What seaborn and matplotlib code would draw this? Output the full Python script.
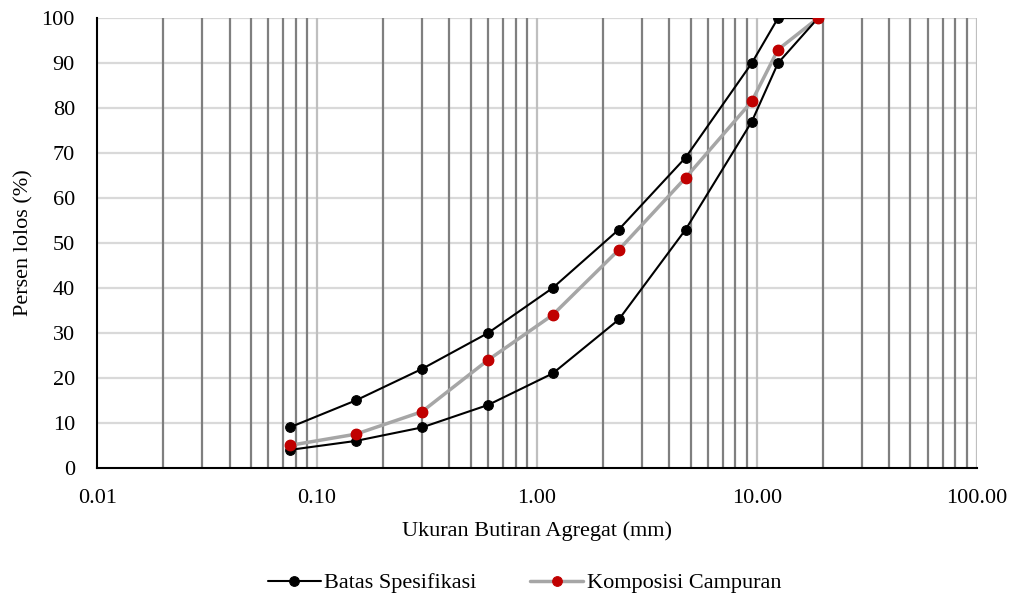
import matplotlib
matplotlib.use("Agg")
import matplotlib.pyplot as plt
import seaborn as sns
import pandas as pd
from matplotlib.ticker import LogLocator, FixedLocator, FixedFormatter, NullFormatter

sieve_mm = [0.075, 0.15, 0.3, 0.6, 1.18, 2.36, 4.75, 9.5, 12.5, 19.0]
upper_limit = [9, 15, 22, 30, 40, 53, 69, 90, 100, 100]
lower_limit = [4, 6, 9, 14, 21, 33, 53, 77, 90, 100]
mix_passing = [5, 7.5, 12.5, 24, 34, 48.5, 64.5, 81.5, 93, 100]

x_ticks = [0.01, 0.1, 1, 10, 100]
x_tick_labels = ["0.01", "0.10", "1.00", "10.00", "100.00"]
y_ticks = list(range(0, 101, 10))

sns.set_theme(style="white")
plt.rcParams["font.family"] = ["Liberation Serif", "DejaVu Serif"]
plt.rcParams["text.color"] = "black"
plt.rcParams["axes.labelcolor"] = "black"

df_up = pd.DataFrame({"x": sieve_mm, "y": upper_limit})
df_lo = pd.DataFrame({"x": sieve_mm, "y": lower_limit})
df_mix = pd.DataFrame({"x": sieve_mm, "y": mix_passing})

fig = plt.figure(figsize=(10.12, 6.03), dpi=100)
ax = fig.add_axes([0.096, 0.224, 0.869, 0.746])

ax.set_xscale("log")
ax.set_xlim(0.01, 100)
ax.set_ylim(0, 100)

# grid lines
ax.xaxis.set_minor_locator(LogLocator(base=10, subs=range(2, 10), numticks=20))
ax.xaxis.set_minor_formatter(NullFormatter())
ax.grid(False)
for xv in [v * 10.0**e for e in range(-2, 2) for v in range(2, 10)]:
    ax.axvline(xv, color="#7f7f7f", lw=1.6, zorder=0.5)
for xv in x_ticks[1:]:
    ax.axvline(xv, color="#bfbfbf", lw=1.6, zorder=0.5)
for yv in y_ticks[1:]:
    ax.axhline(yv, color="#d9d9d9", lw=1.6, zorder=0.4)

sns.lineplot(data=df_mix, x="x", y="y", ax=ax, color="#a6a6a6", lw=2.5,
             marker="o", markersize=7, markerfacecolor="#c00000",
             markeredgecolor="#c00000", label="Komposisi Campuran", zorder=3)
sns.lineplot(data=df_up, x="x", y="y", ax=ax, color="black", lw=1.5,
             marker="o", markersize=7, markeredgecolor="black",
             label="Batas Spesifikasi", zorder=4)
sns.lineplot(data=df_lo, x="x", y="y", ax=ax, color="black", lw=1.5,
             marker="o", markersize=7, markeredgecolor="black",
             label="_nolegend_", zorder=4)
# redraw mix markers on top of black lines
ax.plot(sieve_mm, mix_passing, ls="none", marker="o", markersize=7.5,
        color="#c00000", zorder=5)

ax.xaxis.set_major_locator(FixedLocator(x_ticks))
ax.xaxis.set_major_formatter(FixedFormatter(x_tick_labels))
ax.set_yticks(y_ticks)
ax.tick_params(axis="both", which="both", length=0, labelsize=16,
               colors="black", labelcolor="black")
ax.tick_params(axis="y", pad=16)
ax.tick_params(axis="x", pad=15)

for s in ["top", "right"]:
    ax.spines[s].set_visible(False)
for s in ["left", "bottom"]:
    ax.spines[s].set_color("black")
    ax.spines[s].set_linewidth(1.5)

ax.set_xlabel("Ukuran Butiran Agregat (mm)", fontsize=16, color="black", labelpad=10)
ax.set_ylabel("Persen lolos (%)", fontsize=16, color="black", labelpad=6)

handles, labels = ax.get_legend_handles_labels()
order = [labels.index("Batas Spesifikasi"), labels.index("Komposisi Campuran")]
leg = ax.legend([handles[i] for i in order], [labels[i] for i in order],
                loc="center", bbox_to_anchor=(0.486, -0.256), ncol=2, frameon=False,
                fontsize=16, handlelength=2.4, columnspacing=2.4, handletextpad=0.15)
for t in leg.get_texts():
    t.set_color("black")

fig.savefig("out.png", dpi=100)
